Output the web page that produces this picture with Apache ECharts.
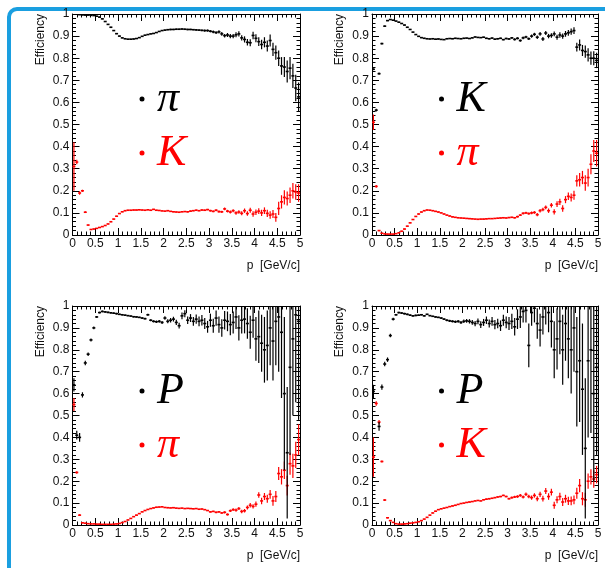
<!DOCTYPE html>
<html>
<head>
<meta charset="utf-8">
<script src="https://cdn.jsdelivr.net/npm/echarts@6/dist/echarts.min.js"></script>
<style>
html, body { margin: 0; padding: 0; background: #fff; }
#chart { width: 605px; height: 568px; }
</style>
</head>
<body>
<div id="chart"></div>
<script>
// momentum binning: 80 bins from 0 to 5 GeV/c
const nBins = 80;
const pMax = 5;
const pCentres = Array.from({ length: nBins }, (_, i) => (i + 0.5) * pMax / nBins);
const xTicks = [0, 0.5, 1, 1.5, 2, 2.5, 3, 3.5, 4, 4.5, 5];

// panel 1: pion id -> pi (black), K (red)
const piEff1 = [
    1.0, 0.999, 0.997, 0.996, 0.995, 0.995, 0.994, 0.993,
    0.99, 0.986, 0.978, 0.966, 0.953, 0.94, 0.925, 0.911,
    0.90, 0.892, 0.888, 0.886, 0.886, 0.887, 0.889, 0.893,
    0.899, 0.904, 0.907, 0.91, 0.912, 0.916, 0.921, 0.925,
    0.927, 0.929, 0.93, 0.93, 0.931, 0.931, 0.932, 0.931,
    0.93, 0.93, 0.929, 0.928, 0.927, 0.926, 0.925, 0.925,
    0.922, 0.919, 0.916, 0.919, 0.91, 0.902, 0.905, 0.90,
    0.90, 0.906, 0.91, 0.892, 0.885, 0.872, 0.87, 0.903,
    0.89, 0.875, 0.862, 0.872, 0.855, 0.88, 0.84, 0.825,
    0.80, 0.765, 0.76, 0.74, 0.755, 0.72, 0.665, 0.625
];
const piErr1 = [
    0.002, 0.002, 0.002, 0.002, 0.002, 0.002, 0.002, 0.002,
    0.002, 0.002, 0.002, 0.002, 0.002, 0.002, 0.002, 0.002,
    0.002, 0.002, 0.002, 0.002, 0.002, 0.002, 0.002, 0.002,
    0.002, 0.002, 0.002, 0.002, 0.002, 0.002, 0.002, 0.002,
    0.003, 0.003, 0.003, 0.003, 0.003, 0.003, 0.003, 0.003,
    0.003, 0.003, 0.003, 0.004, 0.004, 0.004, 0.005, 0.005,
    0.005, 0.006, 0.006, 0.007, 0.008, 0.008, 0.009, 0.01,
    0.01, 0.011, 0.012, 0.012, 0.014, 0.015, 0.016, 0.017,
    0.018, 0.02, 0.021, 0.023, 0.025, 0.027, 0.03, 0.032,
    0.035, 0.04, 0.045, 0.05, 0.05, 0.055, 0.06, 0.065
];
const kEff1 = [
    0.31, 0.33, 0.19, 0.20, 0.103, 0.045, 0.025, 0.027,
    0.03, 0.034, 0.038, 0.043, 0.05, 0.06, 0.072, 0.085,
    0.097, 0.105, 0.11, 0.112, 0.112, 0.113, 0.113, 0.114,
    0.113, 0.112, 0.114, 0.112, 0.116, 0.112, 0.111, 0.109,
    0.108, 0.11, 0.107, 0.105, 0.104, 0.103, 0.105, 0.106,
    0.105, 0.108, 0.11, 0.112, 0.11, 0.113, 0.112, 0.115,
    0.11, 0.107, 0.112, 0.106, 0.105, 0.118, 0.108, 0.104,
    0.11, 0.10, 0.104, 0.098, 0.11, 0.097, 0.112, 0.095,
    0.103, 0.108, 0.1, 0.11, 0.098, 0.09, 0.095, 0.08,
    0.12, 0.15, 0.17, 0.165, 0.18, 0.20, 0.195, 0.19
];
const kErr1 = [
    0.11, 0.01, 0.008, 0.005, 0.004, 0.003, 0.002, 0.002,
    0.002, 0.002, 0.002, 0.002, 0.002, 0.002, 0.002, 0.002,
    0.002, 0.002, 0.002, 0.002, 0.002, 0.002, 0.002, 0.002,
    0.002, 0.002, 0.002, 0.002, 0.002, 0.002, 0.002, 0.002,
    0.002, 0.002, 0.002, 0.002, 0.002, 0.002, 0.002, 0.002,
    0.003, 0.003, 0.003, 0.003, 0.003, 0.003, 0.003, 0.003,
    0.004, 0.004, 0.005, 0.005, 0.005, 0.006, 0.006, 0.007,
    0.007, 0.008, 0.008, 0.009, 0.01, 0.01, 0.011, 0.012,
    0.012, 0.013, 0.014, 0.015, 0.016, 0.017, 0.018, 0.02,
    0.03, 0.03, 0.032, 0.032, 0.035, 0.035, 0.035, 0.04
];

// panel 2: kaon id -> K (black), pi (red)
const kEff2 = [
    0.75, 0.565, 0.73, 0.866, 0.945, 0.97, 0.975, 0.972,
    0.968, 0.963, 0.957, 0.95, 0.94, 0.93, 0.918, 0.907,
    0.899, 0.893, 0.89, 0.888, 0.887, 0.888, 0.886, 0.887,
    0.885, 0.884, 0.888, 0.889, 0.888, 0.89, 0.889, 0.888,
    0.89, 0.891, 0.889, 0.892, 0.896, 0.894, 0.893, 0.895,
    0.89, 0.888, 0.891, 0.886, 0.888, 0.89, 0.884, 0.889,
    0.887, 0.892, 0.885, 0.89, 0.88, 0.892, 0.896, 0.888,
    0.90, 0.908, 0.895, 0.91, 0.887, 0.914, 0.90, 0.903,
    0.91, 0.895, 0.905, 0.9, 0.91, 0.915, 0.92, 0.925,
    0.85, 0.86, 0.835, 0.83, 0.815, 0.80, 0.80, 0.79
];
const kErr2 = [
    0.004, 0.006, 0.005, 0.004, 0.003, 0.002, 0.002, 0.002,
    0.002, 0.002, 0.002, 0.002, 0.002, 0.002, 0.002, 0.002,
    0.002, 0.002, 0.002, 0.002, 0.002, 0.002, 0.002, 0.002,
    0.002, 0.002, 0.002, 0.002, 0.002, 0.002, 0.002, 0.002,
    0.002, 0.002, 0.002, 0.002, 0.002, 0.002, 0.002, 0.002,
    0.003, 0.003, 0.003, 0.003, 0.003, 0.003, 0.003, 0.003,
    0.004, 0.004, 0.005, 0.005, 0.005, 0.006, 0.006, 0.006,
    0.007, 0.007, 0.008, 0.008, 0.009, 0.009, 0.01, 0.01,
    0.011, 0.011, 0.012, 0.012, 0.013, 0.013, 0.014, 0.015,
    0.02, 0.025, 0.025, 0.028, 0.03, 0.03, 0.032, 0.035
];
const piEff2 = [
    0.51, 0.22, 0.02, 0.008, 0.005, 0.004, 0.004, 0.004,
    0.006, 0.01, 0.017, 0.027, 0.04, 0.055, 0.07, 0.084,
    0.095, 0.104, 0.11, 0.113, 0.112, 0.11, 0.107, 0.104,
    0.10, 0.095, 0.09, 0.086, 0.082, 0.08, 0.078, 0.077,
    0.076, 0.075, 0.074, 0.073, 0.072, 0.071, 0.072, 0.072,
    0.073, 0.074, 0.074, 0.075, 0.076, 0.077, 0.078, 0.077,
    0.079, 0.08, 0.078, 0.083, 0.09, 0.098, 0.1, 0.097,
    0.10, 0.102, 0.092, 0.11, 0.115, 0.125, 0.11, 0.135,
    0.105, 0.14, 0.15, 0.12, 0.16, 0.175, 0.17, 0.18,
    0.245, 0.25, 0.26, 0.235, 0.26, 0.32, 0.38, 0.37
];
const piErr2 = [
    0.035, 0.006, 0.003, 0.002, 0.002, 0.002, 0.002, 0.002,
    0.002, 0.002, 0.002, 0.002, 0.002, 0.002, 0.002, 0.002,
    0.002, 0.002, 0.002, 0.002, 0.002, 0.002, 0.002, 0.002,
    0.002, 0.002, 0.002, 0.002, 0.002, 0.002, 0.002, 0.002,
    0.002, 0.002, 0.002, 0.002, 0.002, 0.002, 0.002, 0.002,
    0.002, 0.002, 0.002, 0.002, 0.002, 0.002, 0.002, 0.002,
    0.003, 0.003, 0.003, 0.004, 0.004, 0.005, 0.005, 0.005,
    0.006, 0.006, 0.007, 0.008, 0.008, 0.009, 0.01, 0.01,
    0.012, 0.013, 0.014, 0.015, 0.016, 0.017, 0.018, 0.02,
    0.025, 0.03, 0.03, 0.035, 0.04, 0.045, 0.05, 0.06
];

// panel 3: proton id -> P (black), pi (red)
const pEff3 = [
    0.64, 0.41, 0.40, 0.594, 0.74, 0.78, 0.845, 0.90,
    0.95, 0.97, 0.975, 0.973, 0.971, 0.969, 0.967, 0.965,
    0.962, 0.96, 0.958, 0.956, 0.954, 0.951, 0.95, 0.948,
    0.945, 0.942, 0.96, 0.935, 0.93, 0.928, 0.93, 0.925,
    0.945, 0.93, 0.935, 0.94, 0.925, 0.91, 0.955, 0.965,
    0.935, 0.945, 0.93, 0.94, 0.93, 0.935, 0.92, 0.905,
    0.935, 0.91, 0.945, 0.915, 0.90, 0.935, 0.93, 0.915,
    0.925, 0.95, 0.90, 0.935, 0.94, 0.92, 0.88, 0.935,
    0.85, 0.86, 0.83, 0.80, 0.82, 0.90, 0.84, 0.93,
    0.95, 0.88, 0.60, 0.33, 0.72, 0.85, 0.96, 0.93
];
const pErr3 = [
    0.03, 0.02, 0.02, 0.012, 0.01, 0.008, 0.007, 0.006,
    0.004, 0.004, 0.004, 0.004, 0.004, 0.004, 0.004, 0.004,
    0.003, 0.003, 0.003, 0.003, 0.003, 0.003, 0.003, 0.003,
    0.004, 0.004, 0.005, 0.005, 0.005, 0.006, 0.006, 0.007,
    0.008, 0.009, 0.01, 0.011, 0.012, 0.013, 0.015, 0.016,
    0.017, 0.018, 0.02, 0.021, 0.022, 0.024, 0.025, 0.027,
    0.03, 0.032, 0.035, 0.037, 0.04, 0.042, 0.045, 0.048,
    0.05, 0.055, 0.058, 0.06, 0.065, 0.07, 0.075, 0.08,
    0.1, 0.12, 0.13, 0.15, 0.16, 0.17, 0.18, 0.2,
    0.25, 0.3, 0.35, 0.3, 0.4, 0.35, 0.4, 0.45
];
const piEff3 = [
    0.55, 0.24, 0.045, 0.01, 0.008, 0.006, 0.005, 0.005,
    0.004, 0.004, 0.003, 0.003, 0.003, 0.003, 0.004, 0.005,
    0.007, 0.011, 0.016, 0.023, 0.03, 0.038, 0.045, 0.052,
    0.06, 0.066, 0.071, 0.075, 0.078, 0.081, 0.082, 0.083,
    0.08, 0.079, 0.078, 0.079, 0.077, 0.076, 0.077, 0.075,
    0.076, 0.075, 0.074, 0.075, 0.072, 0.073, 0.07, 0.066,
    0.06, 0.062, 0.058, 0.06, 0.055, 0.058, 0.048, 0.065,
    0.07, 0.068, 0.075, 0.062, 0.065, 0.08, 0.09, 0.085,
    0.095, 0.137, 0.11, 0.13, 0.12, 0.14, 0.11, 0.13,
    0.235, 0.22, 0.25, 0.18, 0.28, 0.27, 0.32, 0.39
];
const piErr3 = [
    0.03, 0.006, 0.004, 0.002, 0.002, 0.002, 0.002, 0.002,
    0.002, 0.002, 0.002, 0.002, 0.002, 0.002, 0.002, 0.002,
    0.002, 0.002, 0.002, 0.002, 0.002, 0.002, 0.002, 0.002,
    0.002, 0.002, 0.002, 0.002, 0.002, 0.002, 0.002, 0.002,
    0.002, 0.002, 0.002, 0.002, 0.002, 0.002, 0.002, 0.002,
    0.002, 0.002, 0.002, 0.002, 0.002, 0.002, 0.002, 0.002,
    0.003, 0.003, 0.004, 0.004, 0.004, 0.005, 0.005, 0.006,
    0.006, 0.007, 0.007, 0.008, 0.008, 0.009, 0.01, 0.01,
    0.012, 0.013, 0.015, 0.016, 0.018, 0.02, 0.022, 0.025,
    0.03, 0.035, 0.04, 0.045, 0.05, 0.055, 0.06, 0.07
];

// panel 4: proton id -> P (black), K (red)
const pEff4 = [
    0.61, null, 0.45, 0.63, 0.735, 0.755, 0.865, 0.94,
    0.96, 0.97, 0.968, 0.965, 0.962, 0.958, 0.955, 0.957,
    0.958, 0.96, 0.955, 0.962, 0.956, 0.953, 0.95, 0.948,
    0.945, 0.94, 0.935, 0.932, 0.93, 0.928, 0.93, 0.925,
    0.93, 0.932, 0.93, 0.925, 0.92, 0.93, 0.915, 0.925,
    0.935, 0.92, 0.93, 0.915, 0.92, 0.91, 0.935, 0.925,
    0.92, 0.93, 0.905, 0.94, 0.95, 0.975, 0.98, 0.82,
    0.97, 0.99, 0.92, 0.89, 0.95, 1.0, 0.97, 0.93,
    0.80, 0.85, 0.93, 0.80, 0.92, 0.85, 0.80, 0.90,
    0.70, 0.75, 0.62, 0.35, 0.75, 0.80, 0.60, 0.72
];
const pErr4 = [
    0.03, 0, 0.02, 0.012, 0.01, 0.01, 0.008, 0.006,
    0.004, 0.004, 0.004, 0.004, 0.004, 0.004, 0.004, 0.004,
    0.003, 0.003, 0.003, 0.003, 0.003, 0.003, 0.003, 0.003,
    0.004, 0.004, 0.005, 0.005, 0.005, 0.006, 0.006, 0.007,
    0.008, 0.009, 0.01, 0.011, 0.012, 0.013, 0.015, 0.016,
    0.017, 0.018, 0.02, 0.021, 0.022, 0.024, 0.025, 0.027,
    0.03, 0.035, 0.04, 0.045, 0.05, 0.05, 0.055, 0.1,
    0.06, 0.065, 0.07, 0.075, 0.08, 0.085, 0.09, 0.12,
    0.13, 0.14, 0.15, 0.16, 0.17, 0.18, 0.2, 0.2,
    0.25, 0.28, 0.3, 0.32, 0.35, 0.38, 0.4, 0.4
];
const kEff4 = [
    0.31, 0.555, 0.47, 0.29, 0.114, 0.033, 0.02, 0.012,
    0.006, 0.004, 0.004, 0.005, 0.006, 0.008, 0.01, 0.012,
    0.015, 0.02, 0.027, 0.035, 0.045, 0.055, 0.063, 0.07,
    0.074, 0.077, 0.08, 0.084, 0.087, 0.09, 0.094, 0.098,
    0.10, 0.103, 0.105, 0.107, 0.11, 0.112, 0.11, 0.115,
    0.118, 0.12, 0.122, 0.125, 0.128, 0.13, 0.135, 0.13,
    0.12, 0.125, 0.128, 0.13, 0.135, 0.128, 0.14, 0.13,
    0.125, 0.135, 0.12, 0.14, 0.12, 0.155, 0.13, 0.15,
    0.09, 0.115, 0.13, 0.105, 0.12, 0.11, 0.11, 0.115,
    0.145, 0.18, 0.12, 0.115, 0.20, 0.22, 0.21, 0.23
];
const kErr4 = [
    0.09, 0.01, 0.01, 0.005, 0.004, 0.003, 0.002, 0.002,
    0.002, 0.002, 0.002, 0.002, 0.002, 0.002, 0.002, 0.002,
    0.002, 0.002, 0.002, 0.002, 0.002, 0.002, 0.002, 0.002,
    0.002, 0.002, 0.002, 0.002, 0.002, 0.002, 0.002, 0.002,
    0.002, 0.002, 0.002, 0.002, 0.002, 0.002, 0.002, 0.002,
    0.003, 0.003, 0.003, 0.003, 0.003, 0.003, 0.003, 0.003,
    0.004, 0.005, 0.005, 0.006, 0.006, 0.007, 0.008, 0.008,
    0.01, 0.01, 0.011, 0.012, 0.013, 0.014, 0.015, 0.015,
    0.016, 0.016, 0.017, 0.018, 0.018, 0.019, 0.02, 0.02,
    0.025, 0.03, 0.03, 0.032, 0.035, 0.035, 0.04, 0.04
];

const panels = [
    { left: 72.5, top: 14, width: 227.5, height: 221, black: [piEff1, piErr1], red: [kEff1, kErr1], names: ["π", "K"] },
    { left: 372, top: 14, width: 226, height: 221, black: [kEff2, kErr2], red: [piEff2, piErr2], names: ["K", "π"] },
    { left: 72.5, top: 306, width: 227.5, height: 219, black: [pEff3, pErr3], red: [piEff3, piErr3], names: ["P", "π"] },
    { left: 372, top: 306, width: 226, height: 219, black: [pEff4, pErr4], red: [kEff4, kErr4], names: ["P", "K"] },
];

const labelFont = { fontFamily: "Liberation Sans", fontSize: 12, color: "#111" };

function binData(eff, err) {
    const out = [];
    eff.forEach((v, i) => {
        if (v !== null) out.push([pCentres[i], v, err[i]]);
    });
    return out;
}

// ROOT style point: small horizontal marker + vertical error bar
function errorBars(color) {
    return function (params, api) {
        const p = api.value(0), v = api.value(1), e = api.value(2);
        const c = api.coord([p, v]);
        const yTop = api.coord([p, v + e])[1];
        const yBot = api.coord([p, v - e])[1];
        const children = [];
        if (e > 0) {
            children.push({
                type: "line",
                shape: { x1: c[0], y1: yTop, x2: c[0], y2: yBot },
                style: { stroke: color, lineWidth: 1.2 },
            });
        }
        children.push({
            type: "rect",
            shape: { x: c[0] - 1.5, y: c[1] - 0.8, width: 3, height: 1.6 },
            style: { fill: color },
        });
        return { type: "group", children: children };
    };
}

function xAxisFor(g, pos) {
    return {
        type: "value", gridIndex: g, position: pos, min: 0, max: 5, interval: 0.5,
        axisLine: { show: true, onZero: false, lineStyle: { color: "#000", width: 1 } },
        axisTick: { show: true, inside: true, length: 7, lineStyle: { color: "#000" } },
        minorTick: { show: true, splitNumber: 5, length: 3.5, lineStyle: { color: "#000" } },
        splitLine: { show: false },
        axisLabel: Object.assign({ show: pos === "bottom", margin: 3,
            formatter: (v) => (xTicks.indexOf(v) >= 0 ? String(v) : "") }, labelFont),
    };
}
function yAxisFor(g, pos) {
    return {
        type: "value", gridIndex: g, position: pos, min: 0, max: 1, interval: 0.1,
        axisLine: { show: true, onZero: false, lineStyle: { color: "#000", width: 1 } },
        axisTick: { show: true, inside: true, length: 7, lineStyle: { color: "#000" } },
        minorTick: { show: true, splitNumber: 5, length: 3.5, lineStyle: { color: "#000" } },
        splitLine: { show: false },
        axisLabel: Object.assign({ show: pos === "left", margin: 3 }, labelFont),
    };
}

const grids = [], xAxes = [], yAxes = [], series = [], graphics = [];

// blue outer frame
graphics.push({
    type: "rect", z: 0,
    shape: { x: 9, y: 9, width: 700, height: 700, r: 8 },
    style: { fill: null, stroke: "#1a9fe0", lineWidth: 4 },
});

panels.forEach((pn, g) => {
    grids.push({ left: pn.left, top: pn.top, width: pn.width, height: pn.height });
    xAxes.push(xAxisFor(g, "bottom"), xAxisFor(g, "top"));
    yAxes.push(yAxisFor(g, "left"), yAxisFor(g, "right"));
    series.push({
        type: "custom", xAxisIndex: 2 * g, yAxisIndex: 2 * g, clip: true,
        renderItem: errorBars("#ff0000"), data: binData(pn.red[0], pn.red[1]),
    });
    series.push({
        type: "custom", xAxisIndex: 2 * g, yAxisIndex: 2 * g, clip: true,
        renderItem: errorBars("#000000"), data: binData(pn.black[0], pn.black[1]),
    });

    const right = pn.left + pn.width, bottom = pn.top + pn.height;
    // axis titles
    graphics.push({
        type: "text", x: pn.left - 32, y: pn.top, rotation: Math.PI / 2,
        style: { text: "Efficiency", font: '12px "Liberation Sans"', fill: "#111",
            align: "right", verticalAlign: "middle" },
    });
    graphics.push({
        type: "text", x: right, y: bottom + 31,
        style: { text: "p  [GeV/c]", font: '12px "Liberation Sans"', fill: "#111",
            align: "right", verticalAlign: "middle" },
    });
    // legend
    const lx = pn.left + 69.5;
    const ly = [pn.top + 85, pn.top + 139];
    ["#000000", "#ff0000"].forEach((col, k) => {
        graphics.push({
            type: "circle", shape: { cx: lx, cy: ly[k], r: 2.5 }, style: { fill: col },
        });
        graphics.push({
            type: "text", x: lx + 15, y: ly[k] - 22,
            style: { text: pn.names[k], font: 'italic 44px "Liberation Serif"', fill: col,
                align: "left", verticalAlign: "top" },
        });
    });
});

const myChart = echarts.init(document.getElementById("chart"), null, { renderer: "canvas" });
myChart.setOption({
    animation: false,
    backgroundColor: "#fff",
    grid: grids,
    xAxis: xAxes,
    yAxis: yAxes,
    series: series,
    graphic: graphics,
});
</script>
</body>
</html>
